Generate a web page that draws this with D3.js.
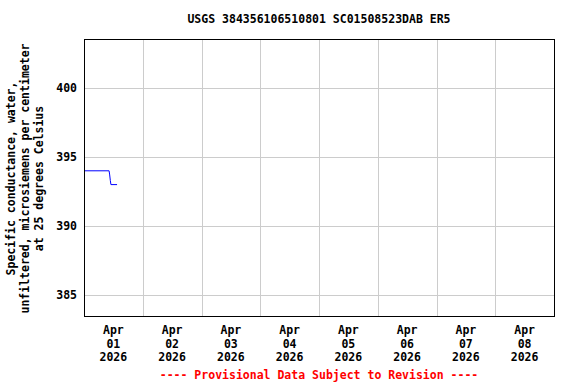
<!DOCTYPE html>
<html>
<head>
<meta charset="utf-8">
<script src="https://d3js.org/d3.v7.min.js"></script>
<style>
  body { margin: 0; background: #fff; }
  text { font-family: "DejaVu Sans Mono", "Liberation Mono", monospace; font-weight: bold; }
</style>
</head>
<body>
<svg id="chart" width="576" height="384"></svg>
<script>
// data (15-minute readings, first day only)
var times = ["2026-04-01T00:00", "2026-04-01T10:15", "2026-04-01T10:30", "2026-04-01T10:45",
             "2026-04-01T11:00", "2026-04-01T13:30"];
var values = [394, 394, 393.7, 393.3, 393, 393];
var yTicks = [385, 390, 395, 400];
var dayTicks = ["2026-04-01", "2026-04-02", "2026-04-03", "2026-04-04",
                "2026-04-05", "2026-04-06", "2026-04-07", "2026-04-08"];
var title = "USGS 384356106510801 SC01508523DAB ER5";
var yLabel = ["Specific conductance, water,",
              "unfiltered, microsiemens per centimeter",
              "at 25 degrees Celsius"];
var footer = "---- Provisional Data Subject to Revision ----";

var svg = d3.select("#chart");
var pL = 84, pR = 554, pT = 39, pB = 316;
var parse = d3.timeParse("%Y-%m-%dT%H:%M");
var parseDay = d3.timeParse("%Y-%m-%d");

var x = d3.scaleTime()
    .domain([parseDay("2026-04-01"), parseDay("2026-04-09")])
    .range([pL, pR]);
var y = d3.scaleLinear()
    .domain([383.48, 403.55])
    .range([pB, pT]);

// grid
var grid = svg.append("g").attr("stroke", "#cccccc").attr("stroke-width", 1);
grid.selectAll(".vg")
  .data(dayTicks.slice(1))
  .enter().append("line")
  .attr("x1", function(d) { return Math.round(x(parseDay(d))) + 0.5; })
  .attr("x2", function(d) { return Math.round(x(parseDay(d))) + 0.5; })
  .attr("y1", pT).attr("y2", pB);
grid.selectAll(".hg")
  .data(yTicks)
  .enter().append("line")
  .attr("x1", pL).attr("x2", pR)
  .attr("y1", function(d) { return Math.round(y(d)) + 0.5; })
  .attr("y2", function(d) { return Math.round(y(d)) + 0.5; });

// data line
var pts = times.map(function(t, i) { return [parse(t), values[i]]; });
svg.append("path")
  .datum(pts)
  .attr("fill", "none")
  .attr("stroke", "#0000ff")
  .attr("stroke-width", 1)
  .attr("d", d3.line()
    .x(function(d) { return x(d[0]); })
    .y(function(d) { return y(d[1]); }));

// frame
svg.append("rect")
  .attr("x", pL + 0.5).attr("y", pT + 0.5)
  .attr("width", pR - pL).attr("height", pB - pT)
  .attr("fill", "none").attr("stroke", "#000").attr("stroke-width", 1);

// y ticks
svg.selectAll(".yt")
  .data(yTicks)
  .enter().append("text")
  .attr("x", 77)
  .attr("y", function(d) { return y(d) + 4; })
  .attr("text-anchor", "end")
  .attr("font-size", "11.5px")
  .text(function(d) { return d; });

// x ticks (labels at noon)
var fmt = [d3.timeFormat("%b"), d3.timeFormat("%d"), d3.timeFormat("%Y")];
dayTicks.forEach(function(d) {
  var t = d3.timeHour.offset(parseDay(d), 12);
  fmt.forEach(function(f, i) {
    svg.append("text")
      .attr("x", x(t))
      .attr("y", 334 + i * 13.5)
      .attr("text-anchor", "middle")
      .attr("font-size", "11.5px")
      .text(f(t));
  });
});

// title
svg.append("text")
  .attr("x", (pL + pR) / 2).attr("y", 23)
  .attr("text-anchor", "middle")
  .attr("font-size", "11.5px")
  .text(title);

// y label
var yl = svg.append("g").attr("transform", "translate(0," + ((pT + pB) / 2 + 1) + ") rotate(-90)");
yLabel.forEach(function(s, i) {
  yl.append("text")
    .attr("x", 0).attr("y", 15 + i * 14)
    .attr("text-anchor", "middle")
    .attr("font-size", "11.5px")
    .text(s);
});

// footer
svg.append("text")
  .attr("x", (pL + pR) / 2).attr("y", 379)
  .attr("text-anchor", "middle")
  .attr("font-size", "11.5px")
  .attr("fill", "#ff0000")
  .text(footer);
</script>
</body>
</html>
